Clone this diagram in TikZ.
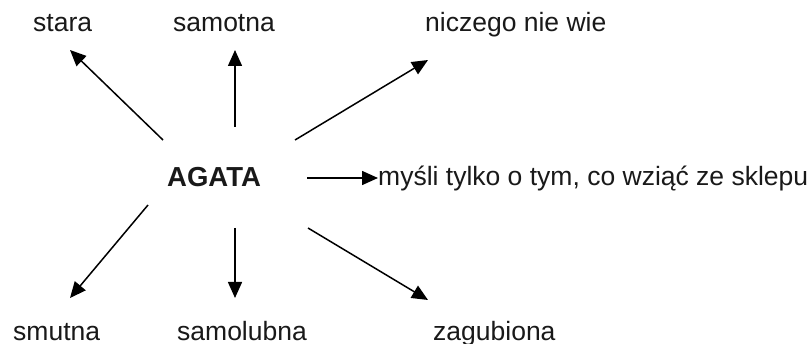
\documentclass[tikz,border=0pt]{standalone}
\usepackage{fontspec}
\setmainfont{Liberation Sans}
\usetikzlibrary{arrows.meta}
\begin{document}
\begin{tikzpicture}[x=1pt,y=-1pt,
  lbl/.style={anchor=base west,inner sep=0pt,font=\fontsize{26.5}{31}\selectfont,text=black!90},
  conn/.style={line width=1.5pt,-{Triangle[length=16pt,width=14pt]}}]
\useasboundingbox[fill=white] (0,0) rectangle (810,344);
% labels
\node[lbl] (stara) at (33,32) {stara};
\node[lbl] (samotna) at (173,32) {samotna};
\node[lbl] (niczego) at (425,32) {niczego nie wie};
\node[lbl,font=\fontsize{27.5}{31}\selectfont\bfseries] (agata) at (167,187) {AGATA};
\node[lbl] (mysli) at (378,186) {myśli tylko o tym, co wziąć ze sklepu};
\node[lbl] (smutna) at (13,340) {smutna};
\node[lbl] (samolubna) at (177,340) {samolubna};
\node[lbl] (zagubiona) at (433,340) {zagubiona};
% connector ends
\coordinate (t1) at (163,140); \coordinate (h1) at (70,50);
\coordinate (t2) at (235,127); \coordinate (h2) at (235,50);
\coordinate (t3) at (295,140); \coordinate (h3) at (428,60);
\coordinate (t4) at (307,178); \coordinate (h4) at (378,178);
\coordinate (t5) at (148,205); \coordinate (h5) at (70,298);
\coordinate (t6) at (235,228); \coordinate (h6) at (235,298);
\coordinate (t7) at (308,228); \coordinate (h7) at (428,300);
\draw[conn] (t1) -- (h1);
\draw[conn] (t2) -- (h2);
\draw[conn] (t3) -- (h3);
\draw[conn] (t4) -- (h4);
\draw[conn] (t5) -- (h5);
\draw[conn] (t6) -- (h6);
\draw[conn] (t7) -- (h7);
\end{tikzpicture}
\end{document}
